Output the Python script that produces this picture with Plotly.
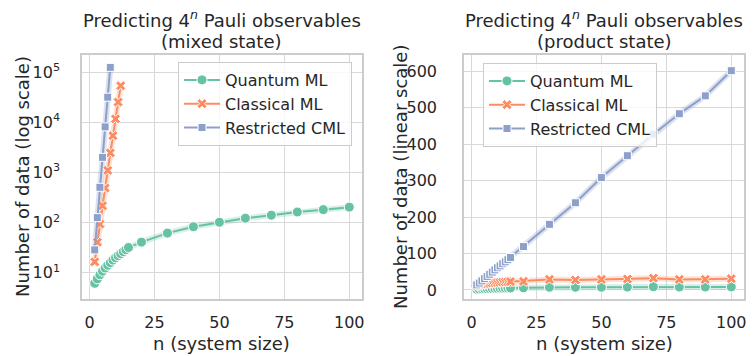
import plotly.graph_objects as go

# ---------------- data ----------------
n_q = [2, 3, 4, 5, 6, 7, 8, 9, 10, 11, 12, 13, 14, 15, 20, 30, 40, 50, 60, 70, 80, 90, 100]
n_c = [2, 3, 4, 5, 6, 7, 8, 9, 10, 11, 12]
n_r = [2, 3, 4, 5, 6, 7, 8]

q_mixed = [6.2, 7.6, 9.2, 10.8, 12.5, 14.2, 16, 18, 20, 22, 24, 26.5, 29, 32,
           41, 62, 83, 102, 123, 141, 163, 182, 204]
c_mixed = [16.6, 40.8, 94, 218, 490, 1100, 2460, 5400, 11700, 25300, 53500]
r_mixed = [28.7, 126, 507, 2000, 8100, 31600, 124000]

q_prod = [2, 2.5, 3, 3.5, 3.5, 4, 4, 4.5, 4.5, 5, 5, 5, 5.5, 5.5,
          6, 7.5, 7.5, 7.5, 8, 9, 8, 8, 8.5]
c_prod = [11, 13, 15, 16, 17, 18, 19, 20, 20.5, 21, 21.5, 22, 22.5, 23,
          23.5, 29, 27.5, 29, 30, 32.5, 29, 29, 31]
r_prod = [14, 19, 25, 31, 37, 43, 49, 55, 61, 66, 72, 77, 83, 89,
          119, 180, 239, 308, 368, 427, 483, 532, 601]

names = ["Quantum ML", "Classical ML", "Restricted CML"]
colors = ["#66c2a5", "#fc8d62", "#8da0cb"]
bands = ["rgba(102,194,165,0.25)", "rgba(252,141,98,0.25)", "rgba(141,160,203,0.3)"]
symbols = ["circle", "x", "square"]
msizes = [10, 9, 8]

log_ticks = [10, 100, 1000, 10000, 100000]
log_text = ["10<sup>1</sup>", "10<sup>2</sup>", "10<sup>3</sup>", "10<sup>4</sup>", "10<sup>5</sup>"]
lin_ticks = [0, 100, 200, 300, 400, 500, 600]
x_ticks = [0, 25, 50, 75, 100]

# page body has an 8px margin; build the figure in window pixel coords
OFF = 8
W, H = 754 - OFF, 356 - OFF
TXT = "#262626"
FONT = "DejaVu Sans"


def px(x):
    return (x - OFF) / W


def py(y):
    return 1 - (y - OFF) / H


fig = go.Figure()

left = [(n_q, q_mixed), (n_c, c_mixed), (n_r, r_mixed)]
right = [(n_q, q_prod), (n_q, c_prod), (n_q, r_prod)]

for data, xa, ya, lg in [(left, "x", "y", "legend"), (right, "x2", "y2", "legend2")]:
    for i, (xs, ys) in enumerate(data):
        fig.add_trace(go.Scatter(x=xs, y=ys, mode="lines", xaxis=xa, yaxis=ya,
                                 line=dict(color=bands[i], width=6),
                                 showlegend=False, hoverinfo="skip"))
    for i, (xs, ys) in enumerate(data):
        fig.add_trace(go.Scatter(
            x=xs, y=ys, mode="lines+markers", name=names[i], xaxis=xa, yaxis=ya,
            legend=lg,
            line=dict(color=colors[i], width=2),
            marker=dict(symbol=symbols[i], size=msizes[i], color=colors[i],
                        line=dict(color="white", width=1))))

ax_common = dict(showgrid=True, gridcolor="#d9d9d9", gridwidth=1,
                 showline=True, linecolor="#cccccc", linewidth=1.5, mirror=True,
                 zeroline=False, ticks="", automargin=False,
                 tickfont=dict(family=FONT, size=16, color=TXT))

x1d = [px(82), px(362)]
x2d = [px(464), px(744)]
yd = [py(299), py(55)]

legend_common = dict(xanchor="left", yanchor="top", itemwidth=36,
                     bgcolor="rgba(255,255,255,0.8)", bordercolor="#cccccc", borderwidth=1,
                     font=dict(family=FONT, size=16, color=TXT))

fig.update_layout(
    width=W, height=H,
    margin=dict(l=0, r=0, t=0, b=0),
    paper_bgcolor="white", plot_bgcolor="white",
    font=dict(family=FONT, size=16, color=TXT),
    xaxis=dict(domain=x1d, range=[-2.9, 104.9], tickvals=x_ticks, anchor="y",
               ticklabelstandoff=8, **ax_common),
    yaxis=dict(domain=yd, type="log", range=[0.48, 5.34], tickvals=log_ticks,
               ticktext=log_text, anchor="x", ticklabelstandoff=17, **ax_common),
    xaxis2=dict(domain=x2d, range=[-2.9, 104.9], tickvals=x_ticks, anchor="y2",
                ticklabelstandoff=8, **ax_common),
    yaxis2=dict(domain=yd, range=[-24.7, 644], tickvals=lin_ticks, anchor="x2",
                ticklabelstandoff=22, **ax_common),
    legend=dict(x=px(178), y=py(62), **legend_common),
    legend2=dict(x=px(483), y=py(63), **legend_common),
)

ann = []
line1 = "Predicting 4<sup><i>n</i></sup> Pauli observables"
line2 = ["(mixed state)", "(product state)"]
for t2, (a, b) in zip(line2, [x1d, x2d]):
    for t, yc in [(line1, 19), (t2, 41)]:
        ann.append(dict(text=t, x=(a + b) / 2, y=py(yc), xref="paper", yref="paper",
                        xanchor="center", yanchor="middle", showarrow=False,
                        font=dict(family=FONT, size=18, color=TXT)))
    ann.append(dict(text="n (system size)", x=(a + b) / 2, y=py(343),
                    xref="paper", yref="paper", xanchor="center", yanchor="middle",
                    showarrow=False, font=dict(family=FONT, size=18, color=TXT)))
ann.append(dict(text="Number of data (log scale)", x=px(22), y=py(177),
                xref="paper", yref="paper", xanchor="center", yanchor="middle",
                textangle=-90, showarrow=False, font=dict(family=FONT, size=18, color=TXT)))
ann.append(dict(text="Number of data (linear scale)", x=px(400), y=py(177),
                xref="paper", yref="paper", xanchor="center", yanchor="middle",
                textangle=-90, showarrow=False, font=dict(family=FONT, size=18, color=TXT)))
fig.update_layout(annotations=ann)

fig.write_html("out.html")
